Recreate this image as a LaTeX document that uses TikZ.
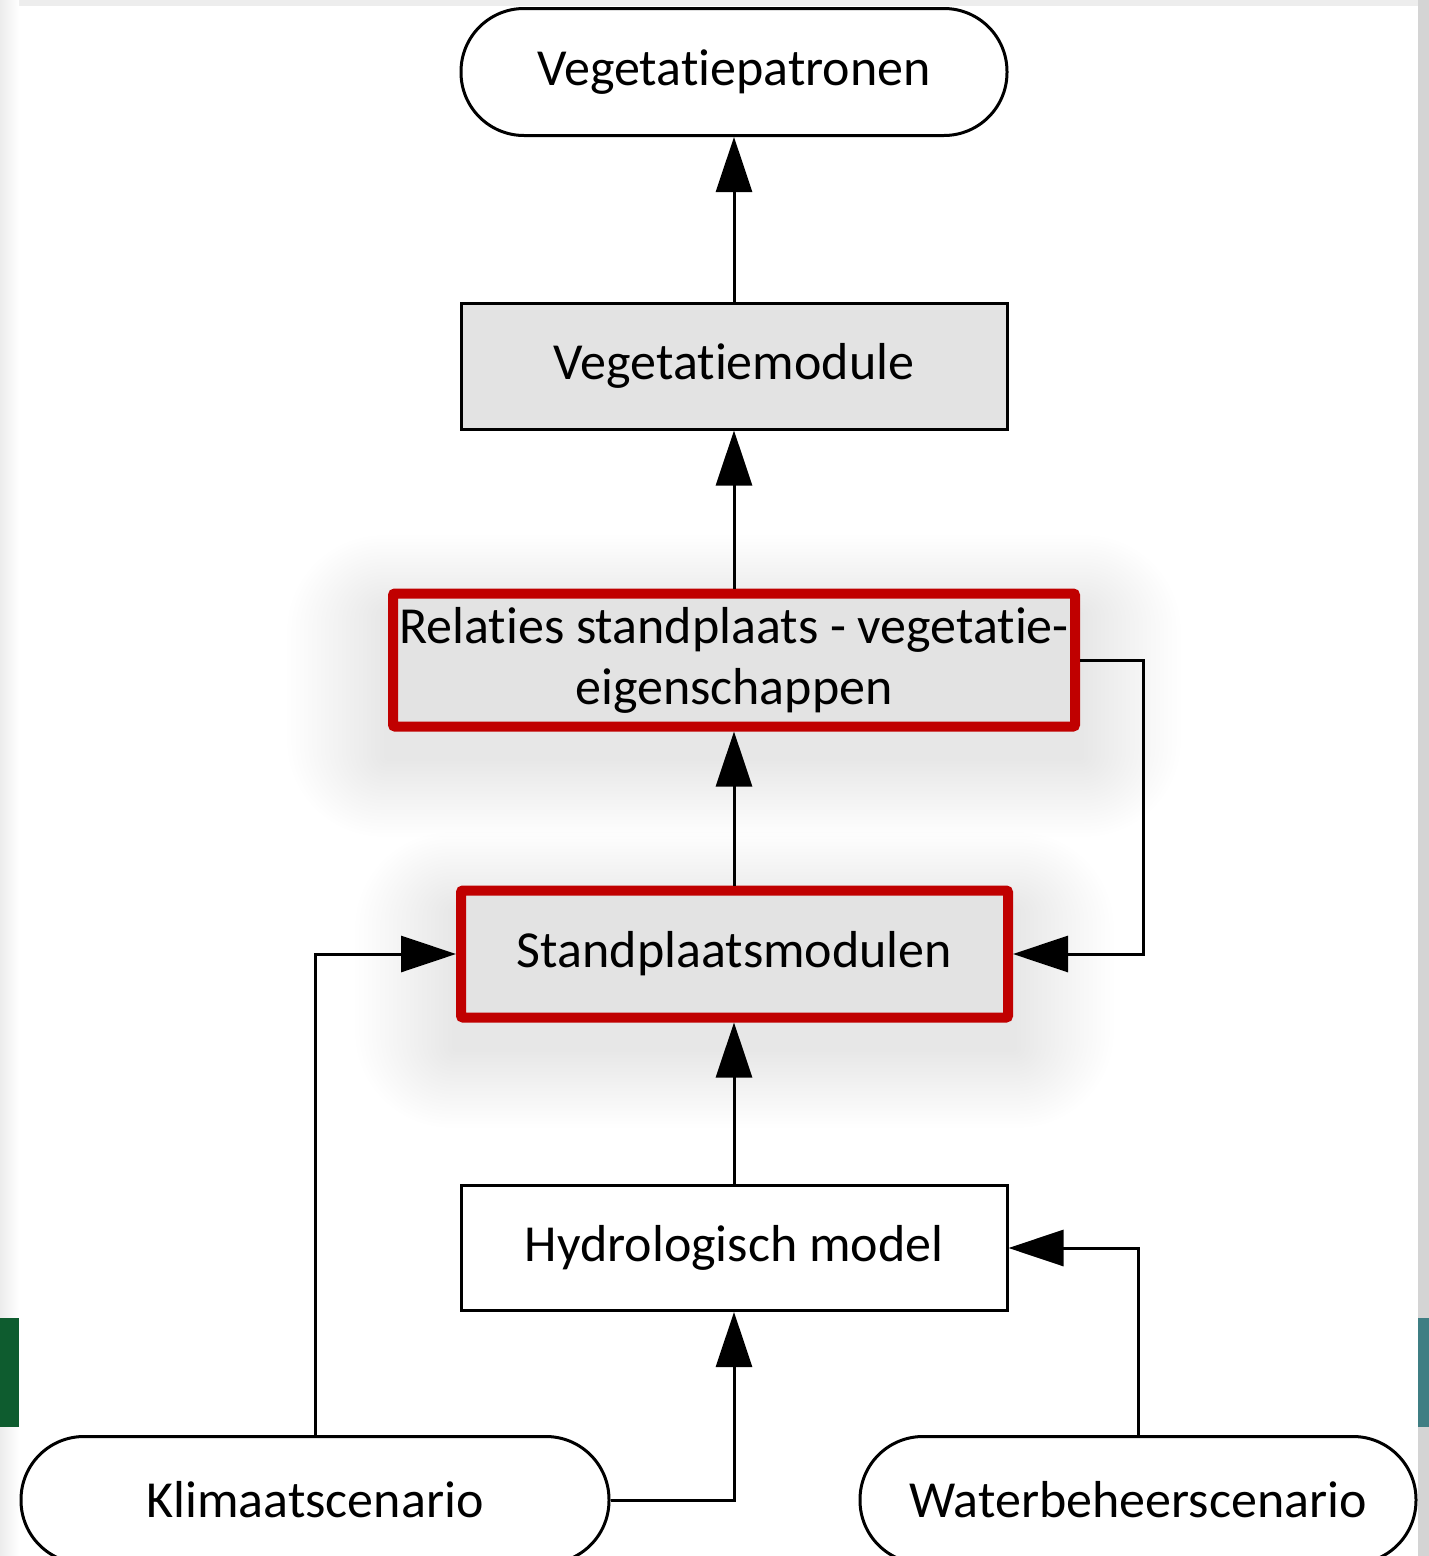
\documentclass[tikz,border=0pt]{standalone}
\usepackage{fontspec}
\setmainfont{Carlito}[Ligatures=NoCommon]
\usetikzlibrary{arrows.meta}
\definecolor{boxgray}{HTML}{E3E3E3}
\definecolor{hired}{HTML}{C00000}
\definecolor{edgegray}{HTML}{D4D4D4}
\definecolor{topgray}{HTML}{EDEDED}
\definecolor{bandgreen}{HTML}{0E5C2F}
\definecolor{bandteal}{HTML}{3F7E83}
\pgfdeclarelayer{pageframe}
\pgfdeclarelayer{haze}
\pgfsetlayers{pageframe,haze,main}
\tikzset{
  every node/.style={font=\fontsize{52}{61}\selectfont, text=black},
  basebox/.style={draw=black, line width=3pt, minimum width=546pt, minimum height=126pt, inner sep=0pt, align=center},
  greybox/.style={basebox, fill=boxgray},
  plainbox/.style={basebox, fill=white},
  keybox/.style={draw=hired, line width=10pt, fill=boxgray, rounded corners=2pt, inner sep=0pt, align=center},
  pill/.style={basebox, fill=white, rounded corners=63pt, minimum height=127pt},
  flow/.style={line width=3pt, -{Triangle[length=55pt,width=36pt]}},
  softlayer/.style={fill=black, opacity=0.0055},
}
% soft drop haze under a node: stacked translucent rounded rectangles
\newcommand{\softhaze}[1]{%
  \foreach \k in {1,...,24}{%
    \fill[softlayer, rounded corners=4*\k pt]
      ([xshift=-4.2*\k pt, yshift=-26pt-3.3*\k pt]#1.south west) rectangle
      ([xshift=4.2*\k pt, yshift=-26pt+3.3*\k pt]#1.north east);
  }}
\begin{document}
\begin{tikzpicture}[x=1pt,y=-1pt]
\useasboundingbox (0,0) rectangle (1429,1556);
\clip (0,0) rectangle (1429,1556);
% page frame
\begin{pgfonlayer}{pageframe}
\fill[topgray] (0,0) rectangle (1429,1556);
\shade[left color=gray!15, right color=white] (0,0) rectangle (19,1556);
\fill[edgegray] (1418,0) rectangle (1429,1556);
\fill[white] (19,6) rectangle (1418,1556);
\fill[bandgreen] (0,1318) rectangle (19,1427);
\fill[bandteal] (1418,1318) rectangle (1429,1427);
\end{pgfonlayer}

% nodes
\node[pill] (vp) at (734,72) {Vegetatiepatronen};
\node[greybox] (vm) at (734,366) {Vegetatiemodule};
\node[keybox, minimum width=682pt, minimum height=133pt] (rel) at (734,660)
  {Relaties standplaats - vegetatie-\\eigenschappen};
\node[keybox, minimum width=547pt, minimum height=127pt] (sp) at (734.5,954) {Standplaatsmodulen};
\node[plainbox, minimum height=125pt] (hy) at (734,1248) {Hydrologisch model};
\node[pill, minimum width=588pt] (kl) at (315,1500) {Klimaatscenario};
\node[pill, minimum width=556pt] (wb) at (1138,1500) {Waterbeheerscenario};

% haze under the highlighted boxes
\begin{pgfonlayer}{haze}
\softhaze{rel}
\softhaze{sp}
\end{pgfonlayer}

% connectors
\draw[flow] (vm.north) -- (vp.south);
\draw[flow] (rel.north) -- (rel.north |- vm.south);
\draw[flow] (sp.north -| rel.north) -- (rel.south);
\draw[flow] (hy.north) -- (hy.north |- sp.south);
\draw[flow] (kl.east) -| (hy.south);
\draw[flow] (kl.north) |- (sp.west);
\draw[flow] (rel.east) -- ++(63,0) |- (sp.east);
\draw[flow] (wb.north) |- (hy.east);
\end{tikzpicture}
\end{document}
